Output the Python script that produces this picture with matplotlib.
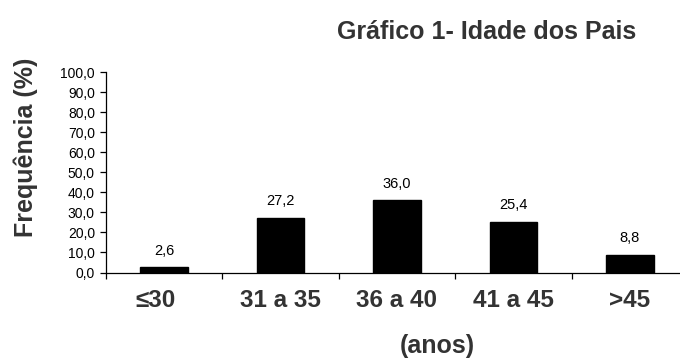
import matplotlib
matplotlib.use("Agg")
import matplotlib.pyplot as plt
import matplotlib.transforms as mtransforms
import numpy as np

categories = ["≤30", "31 a 35", "36 a 40", "41 a 45", ">45"]
values = [2.6, 27.2, 36.0, 25.4, 8.8]
yticks = [0, 10, 20, 30, 40, 50, 60, 70, 80, 90, 100]

plt.rcParams['font.family'] = ['Liberation Sans', 'DejaVu Sans']

W, H = 680, 359
fig = plt.figure(figsize=(6.8, 3.59), dpi=100)
ax = fig.add_axes([106 / W, 1 - 272.5 / H, 582 / W, (272.5 - 72) / H])

x = np.arange(len(categories))
ax.bar(x, values, width=0.41, color='black', edgecolor='black')
for xi, v in zip(x, values):
    ax.annotate(f"{v:.1f}".replace('.', ','), (xi, v), xytext=(0, 7), textcoords='offset points',
                ha='center', va='bottom', fontsize=10.5, color='black')

ax.set_xlim(-0.5, len(categories) - 0.5)
ax.set_ylim(0, 100)
ax.set_yticks(yticks)
ax.set_yticklabels([f"{t:.1f}".replace('.', ',') for t in yticks], fontsize=10)
ax.set_xticks(x)
ax.set_xticklabels(categories, fontsize=17.5, fontweight='bold', color='#333333')
ax.tick_params(axis='x', which='major', length=0, pad=12)
ax.set_xticks(np.arange(-0.5, len(categories), 1.0), minor=True)
ax.tick_params(axis='x', which='minor', length=4, direction='out', width=0.9)
ax.tick_params(axis='y', length=4, direction='out', width=0.9, pad=4)

# first label sits a little left of its category centre in the reference
first = ax.get_xticklabels()[0]
first.set_transform(first.get_transform() + mtransforms.ScaledTranslation(-9 / 100, 0, fig.dpi_scale_trans))

for s in ['top', 'right']:
    ax.spines[s].set_visible(False)
for s in ['left', 'bottom']:
    ax.spines[s].set_linewidth(0.9)

fig.text(26 / W, 1 - 147 / H, "Frequência (%)", rotation=90, ha='center', va='center',
         fontsize=18, fontweight='bold', color='#333333')
fig.text(437 / W, 1 - 346 / H, "(anos)", ha='center', va='center',
         fontsize=18, fontweight='bold', color='#333333')
fig.text(487 / W, 1 - 32 / H, "Gráfico 1- Idade dos Pais", ha='center', va='center',
         fontsize=18, fontweight='bold', color='#333333')

fig.savefig("out.png", dpi=100)
